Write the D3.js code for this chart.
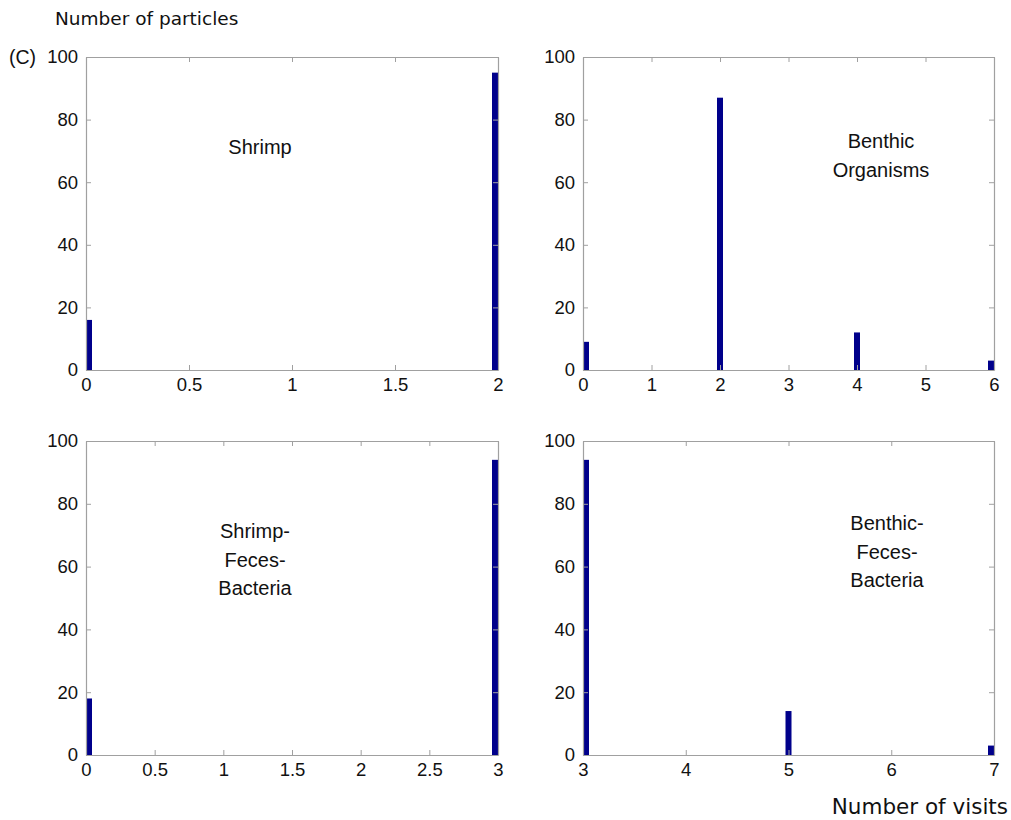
<!DOCTYPE html>
<html>
<head>
<meta charset="utf-8">
<style>
  body { margin: 0; background: #fff; }
  svg text { font-family: "Liberation Sans", Arial, sans-serif; fill: #111; }
  .ttl { font-family: "DejaVu Sans", Verdana, sans-serif; }
</style>
</head>
<body>
<div id="chart"></div>
<script src="https://cdn.jsdelivr.net/npm/d3@7"></script>
<script>
// ---- data ----
var shrimpVisits = [0, 2];
var shrimpCounts = [16, 95];

var benthicVisits = [0, 2, 4, 6];
var benthicCounts = [9, 87, 12, 3];

var sfbVisits = [0, 3];
var sfbCounts = [18, 94];

var bfbVisits = [3, 5, 7];
var bfbCounts = [94, 14, 3];

var shrimpTicks = [0, 0.5, 1, 1.5, 2];
var benthicTicks = [0, 1, 2, 3, 4, 5, 6];
var sfbTicks = [0, 0.5, 1, 1.5, 2, 2.5, 3];
var bfbTicks = [3, 4, 5, 6, 7];
var yTicks = [0, 20, 40, 60, 80, 100];

var w = 1011, h = 820;
var svg = d3.select("#chart").append("svg")
  .attr("width", w).attr("height", h);

// panel boxes in pixels
var panels = [
  { name: ["Shrimp"], x: shrimpVisits, y: shrimpCounts, ticks: shrimpTicks,
    dom: [0, 2], left: 86, right: 498, top: 57, bottom: 370, lx: 260, ly: 154 },
  { name: ["Benthic", "Organisms"], x: benthicVisits, y: benthicCounts, ticks: benthicTicks,
    dom: [0, 6], left: 583, right: 994, top: 57, bottom: 370, lx: 881, ly: 148 },
  { name: ["Shrimp-", "Feces-", "Bacteria"], x: sfbVisits, y: sfbCounts, ticks: sfbTicks,
    dom: [0, 3], left: 86, right: 498, top: 441, bottom: 755, lx: 255, ly: 538 },
  { name: ["Benthic-", "Feces-", "Bacteria"], x: bfbVisits, y: bfbCounts, ticks: bfbTicks,
    dom: [3, 7], left: 583, right: 994, top: 441, bottom: 755, lx: 887, ly: 530 }
];

var barW = 6, tickLen = 5, axisCol = "#a0a0a0";

panels.forEach(function(p, i) {
  var xScale = d3.scaleLinear().domain(p.dom).range([p.left, p.right]);
  var yScale = d3.scaleLinear().domain([0, 100]).range([p.bottom, p.top]);
  var g = svg.append("g");

  // bars, kept inside the box like the original
  var data = p.x.map(function(v, k) { return [v, p.y[k]]; });
  g.selectAll("rect").data(data).enter().append("rect")
    .attr("x", function(d) {
      var x0 = xScale(d[0]) - barW / 2;
      return Math.max(p.left, Math.min(p.right - barW, x0));
    })
    .attr("y", function(d) { return yScale(d[1]); })
    .attr("width", barW)
    .attr("height", function(d) { return p.bottom - yScale(d[1]); })
    .attr("fill", "#00008b");

  // axes, inward ticks (matlab style)
  var xAx = g.append("g").attr("transform", "translate(0," + p.bottom + ")")
    .call(d3.axisBottom(xScale).tickValues(p.ticks).tickSizeInner(-tickLen).tickSizeOuter(0)
      .tickFormat(d3.format("")).tickPadding(8));
  var xTop = g.append("g").attr("transform", "translate(0," + p.top + ")")
    .call(d3.axisTop(xScale).tickValues(p.ticks).tickSizeInner(-tickLen).tickSizeOuter(0)
      .tickFormat(""));
  var yAx = g.append("g").attr("transform", "translate(" + p.left + ",0)")
    .call(d3.axisLeft(yScale).tickValues(yTicks).tickSizeInner(-tickLen).tickSizeOuter(0)
      .tickPadding(8));
  var yRight = g.append("g").attr("transform", "translate(" + p.right + ",0)")
    .call(d3.axisRight(yScale).tickValues(yTicks).tickSizeInner(-tickLen).tickSizeOuter(0)
      .tickFormat(""));

  [xAx, xTop, yAx, yRight].forEach(function(a) {
    a.selectAll("path").attr("stroke", axisCol).attr("stroke-width", 1.2);
    a.selectAll("line").attr("stroke", axisCol);
    a.selectAll("text").style("font-size", "18.5px")
      .style("font-family", "'Liberation Sans', Arial, sans-serif").attr("fill", "#111");
  });

  // panel label
  var t = g.append("text")
    .attr("x", p.lx).attr("y", p.ly)
    .attr("text-anchor", "middle")
    .style("font-size", "20px");
  p.name.forEach(function(s, k) {
    t.append("tspan").attr("x", p.lx).attr("dy", k === 0 ? 0 : 28.5).text(s);
  });
});

svg.append("text").attr("class", "ttl")
  .attr("x", 55).attr("y", 25)
  .style("font-size", "18.5px")
  .text("Number of particles");

svg.append("text")
  .attr("x", 9).attr("y", 64)
  .style("font-size", "19.5px")
  .text("(C)");

svg.append("text").attr("class", "ttl")
  .attr("x", 1008).attr("y", 814)
  .attr("text-anchor", "end")
  .style("font-size", "21.5px")
  .text("Number of visits");
</script>
</body>
</html>
